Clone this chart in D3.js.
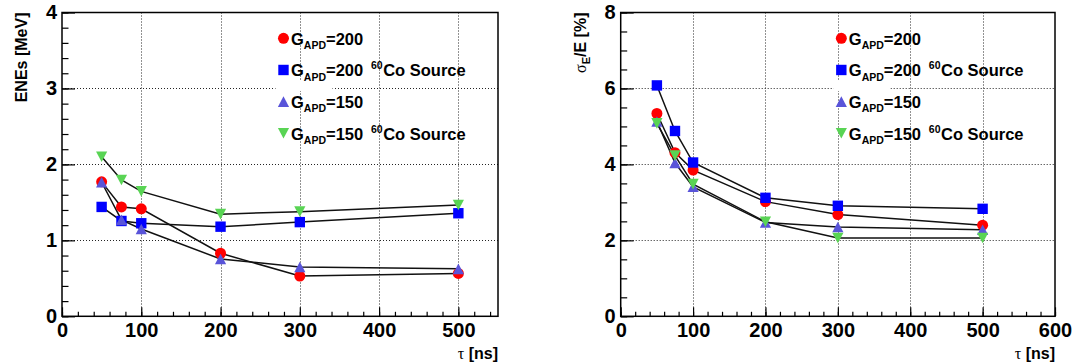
<!DOCTYPE html>
<html><head><meta charset="utf-8">
<script src="https://cdn.jsdelivr.net/npm/d3@7"></script>
<style>
body{margin:0;background:#fff}
svg{display:block}
text{font-family:"Liberation Sans",Arial,Helvetica,sans-serif;font-weight:bold;fill:#000}
</style>
</head><body>
<svg id="c" width="1076" height="364"></svg>
<script>
// ---------- data ----------
const tau = [50, 75, 100, 200, 300, 500];            // shaping time [ns]
// left panel: ENEs [MeV]
const enesG200   = [1.77, 1.44, 1.415, 0.83, 0.53, 0.565];
const enesG200Co = [1.44, 1.255, 1.225, 1.18, 1.24, 1.357];
const enesG150   = [1.765, 1.27, 1.15, 0.755, 0.65, 0.625];
const enesG150Co = [2.10, 1.795, 1.645, 1.345, 1.378, 1.465];
// right panel: sigma_E/E [%]
const resG200   = [5.34, 4.31, 3.85, 3.02, 2.68, 2.40];
const resG200Co = [6.08, 4.88, 4.05, 3.12, 2.91, 2.83];
const resG150   = [5.13, 4.04, 3.41, 2.47, 2.35, 2.28];
const resG150Co = [5.08, 4.23, 3.48, 2.49, 2.06, 2.06];
// legend
const legendGain   = ["200", "200", "150", "150"];
const legendSource = [false, true, false, true];
const markerTypes  = ["circle", "square", "up", "down"];
const markerColors = ["#ff0000", "#0000ff", "#5954d9", "#59d454"];
// axis ticks
const leftXTicks  = [0, 100, 200, 300, 400, 500];
const leftYTicks  = [0, 1, 2, 3, 4];
const rightXTicks = [0, 100, 200, 300, 400, 500, 600];
const rightYTicks = [0, 2, 4, 6, 8];

// ---------- drawing ----------
const svg = d3.select("#c");

function markerPath(type){
  if(type==="circle") return d3.symbol(d3.symbolCircle, Math.PI*5.5*5.5)();
  if(type==="square") return "M-5.2,-5.2H5.2V5.2H-5.2Z";
  if(type==="up") return "M0,-5.3L5.6,5.3L-5.6,5.3Z";
  return "M0,5.3L5.6,-5.3L-5.6,-5.3Z";
}

function panel(cfg){
  const x = d3.scaleLinear().domain(cfg.xDomain).range(cfg.xRange);
  const y = d3.scaleLinear().domain(cfg.yDomain).range(cfg.yRange);
  const g = svg.append("g");
  const [x0,x1] = cfg.xRange, [y0,y1] = cfg.yRange;

  // grid
  const grid = g.append("g").attr("stroke","#000").attr("stroke-width",1)
     .attr("stroke-dasharray","1,2").attr("opacity",0.85);
  cfg.xTicks.filter(v=>v>cfg.xDomain[0] && v<cfg.xDomain[1]).forEach(v=>{
    grid.append("line").attr("x1",Math.round(x(v))+0.5).attr("x2",Math.round(x(v))+0.5)
      .attr("y1",y1).attr("y2",y0);
  });
  cfg.yTicks.filter(v=>v>cfg.yDomain[0] && v<cfg.yDomain[1]).forEach(v=>{
    grid.append("line").attr("y1",Math.round(y(v))+0.5).attr("y2",Math.round(y(v))+0.5)
      .attr("x1",x0).attr("x2",x1);
  });

  // legend background gap
  const lx = x0 + 0.508*(x1-x0);
  const rowY = i => 38.3 + i*31.67;
  g.append("rect").attr("x",lx-8).attr("y",rowY(1)+11).attr("width",57).attr("height",10).attr("fill","#fff");

  // minor ticks
  const xMinor = d3.range(cfg.xDomain[0], cfg.xDomain[1]+0.001, cfg.xMinorStep);
  const yMinor = d3.range(cfg.yDomain[0], cfg.yDomain[1]+0.001, cfg.yMinorStep);
  const ax = g.append("g");
  ax.append("g").attr("transform",`translate(0,${y0})`)
    .call(d3.axisBottom(x).tickValues(xMinor).tickSize(-4.5).tickFormat(""))
    .call(s=>s.select(".domain").remove());
  ax.append("g").attr("transform",`translate(${x0},0)`)
    .call(d3.axisLeft(y).tickValues(yMinor).tickSize(-6.5).tickFormat(""))
    .call(s=>s.select(".domain").remove());
  // major ticks + labels
  const bx = ax.append("g").attr("transform",`translate(0,${y0})`)
    .call(d3.axisBottom(x).tickValues(cfg.xTicks).tickSize(-9).tickPadding(6.3).tickFormat(d3.format("d")))
    .call(s=>s.select(".domain").remove());
  const by = ax.append("g").attr("transform",`translate(${x0},0)`)
    .call(d3.axisLeft(y).tickValues(cfg.yTicks).tickSize(-13).tickPadding(5).tickFormat(d3.format("d")))
    .call(s=>s.select(".domain").remove());
  [bx,by].forEach(s=>{
    s.attr("font-family",null).attr("font-size",null);
    s.selectAll("text").attr("font-size",20).attr("fill","#000");
  });
  ax.selectAll("line").attr("stroke","#000").attr("stroke-width",1.2);

  // series lines and markers
  cfg.series.forEach((vals,i)=>{
    const pts = tau.map((t,k)=>[x(t), y(vals[k])]);
    g.append("path").attr("d",d3.line()(pts)).attr("fill","none")
      .attr("stroke","#111").attr("stroke-width",1.5);
  });
  cfg.series.forEach((vals,i)=>{
    g.append("g").selectAll("path").data(tau).join("path")
      .attr("transform",(t,k)=>`translate(${x(t)},${y(vals[k])})`)
      .attr("d",markerPath(markerTypes[i])).attr("fill",markerColors[i]);
  });

  // frame
  g.append("rect").attr("x",x0).attr("y",y1).attr("width",x1-x0).attr("height",y0-y1)
    .attr("fill","none").attr("stroke","#000").attr("stroke-width",1.5);

  // legend
  legendGain.forEach((gain,i)=>{
    const ry = rowY(i);
    g.append("path").attr("transform",`translate(${lx},${ry})`)
      .attr("d",markerPath(markerTypes[i])).attr("fill",markerColors[i]);
    const t = g.append("text").attr("x",lx+7.5).attr("y",ry+6.2).attr("font-size",16.5);
    t.append("tspan").text("G");
    t.append("tspan").attr("font-size",10.5).attr("dy",4.5).text("APD");
    t.append("tspan").attr("dy",-4.5).text("=" + gain);
    if(legendSource[i]){
      const s = g.append("text").attr("x",lx+87.5).attr("y",ry+6.2).attr("font-size",16.5);
      s.append("tspan").attr("font-size",10.5).attr("dy",-7).text("60");
      s.append("tspan").attr("dy",7).attr("dx",0.5).text("Co Source");
    }
  });

  // x title
  const xt = g.append("text").attr("x",x1).attr("y",359).attr("text-anchor","end").attr("font-size",16);
  xt.append("tspan").attr("font-family","'Liberation Serif',serif").attr("font-weight","normal").text("τ");
  xt.append("tspan").text(" [ns]");

  // y title
  const yt = g.append("text").attr("transform",`translate(${cfg.yTitleX},${y1}) rotate(-90)`)
    .attr("text-anchor","end").attr("font-size",16);
  cfg.yTitle(yt);
}

panel({
  xDomain:[0,550], yDomain:[0,4], xRange:[62,498], yRange:[316.3,12.5],
  xTicks:leftXTicks, yTicks:leftYTicks, xMinorStep:20, yMinorStep:0.2,
  series:[enesG200, enesG200Co, enesG150, enesG150Co],
  yTitleX:26.5,
  yTitle:t=>t.text("ENEs [MeV]")
});
panel({
  xDomain:[0,600], yDomain:[0,8], xRange:[620.7,1055], yRange:[316.3,12.5],
  xTicks:rightXTicks, yTicks:rightYTicks, xMinorStep:20, yMinorStep:0.5,
  series:[resG200, resG200Co, resG150, resG150Co],
  yTitleX:585.5,
  yTitle:t=>{
    t.append("tspan").attr("font-family","'Liberation Serif',serif").attr("font-weight","normal").text("σ");
    t.append("tspan").attr("font-size",11).attr("dy",4).text("E");
    t.append("tspan").attr("dy",-4).text("/E [%]");
  }
});
</script>
</body></html>
